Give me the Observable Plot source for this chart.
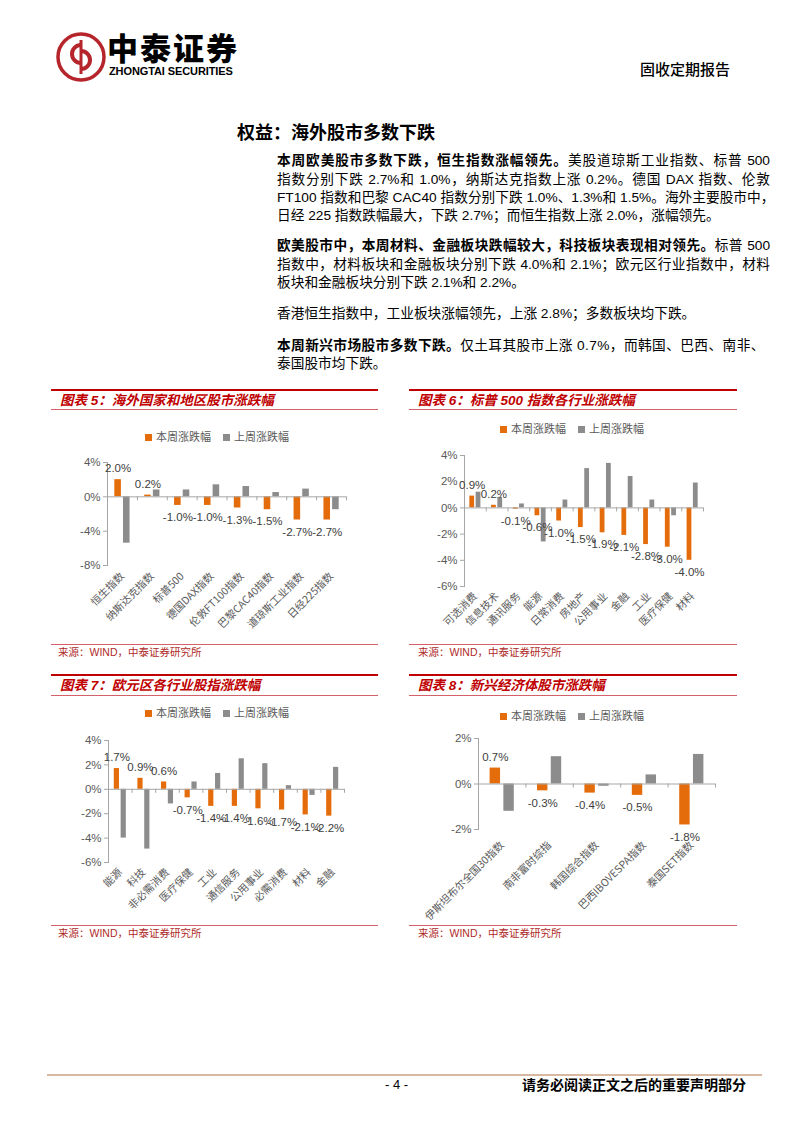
<!DOCTYPE html>
<html><head><meta charset="utf-8">
<script src="https://cdn.jsdelivr.net/npm/d3@7"></script>
<script src="https://cdn.jsdelivr.net/npm/@observablehq/plot@0.6"></script>
<style>
body{margin:0;background:#fff;width:802px;height:1133px;position:relative;overflow:hidden;font-family:"Liberation Sans","Noto Sans CJK SC",sans-serif;color:#000;}
.a{position:absolute;white-space:nowrap;}
.ln{position:absolute;left:277px;width:493px;height:18px;line-height:18px;font-size:13.7px;white-space:nowrap;}
.j{text-align:justify;text-align-last:justify;}
.ttl{position:absolute;font-size:13.5px;font-weight:bold;font-style:italic;color:#c00000;line-height:16px;}
.thick{position:absolute;height:2px;background:#c00000;}
.thin{position:absolute;height:1px;background:#d4606a;}
.src{position:absolute;font-size:10.5px;color:#b02a2a;line-height:12px;}
.leg{position:absolute;font-size:11px;color:#595959;line-height:12px;display:flex;align-items:center;transform:translateX(-50%);}
.leg i{display:inline-block;width:7px;height:7px;margin-right:4px;}
.leg span{margin-right:12px;}
.chart{position:absolute;}
</style></head><body>

<!-- header -->
<svg class="a" style="left:55px;top:31px" width="52" height="52" viewBox="0 0 52 52">
  <circle cx="26" cy="26" r="23" fill="none" stroke="#b5252b" stroke-width="3.5"/>
  <path d="M26 14 A9 9 0 1 0 26 32" fill="none" stroke="#b5252b" stroke-width="4"/>
  <path d="M26 20 A9 9 0 1 1 26 38" fill="none" stroke="#b5252b" stroke-width="4"/>
  <line x1="26" y1="9" x2="26" y2="43" stroke="#b5252b" stroke-width="3"/>
</svg>
<div class="a" style="left:107px;top:33px;font-size:31px;font-weight:900;letter-spacing:2px;line-height:34px;">中泰证券</div>
<div class="a" style="left:109px;top:65px;font-size:11px;font-weight:bold;letter-spacing:-0.1px;line-height:12px;">ZHONGTAI SECURITIES</div>
<div class="a" style="left:640px;top:61px;font-size:15px;font-weight:500;line-height:18px;">固收定期报告</div>

<!-- heading and body -->
<div class="a" style="left:237px;top:122px;font-size:18px;font-weight:bold;line-height:22px;">权益：海外股市多数下跌</div>

<div class="ln j" style="top:152px"><b>本周欧美股市多数下跌，恒生指数涨幅领先。</b>美股道琼斯工业指数、标普 500</div>
<div class="ln j" style="top:171px">指数分别下跌 2.7%和 1.0%，纳斯达克指数上涨 0.2%。德国 DAX 指数、伦敦</div>
<div class="ln j" style="top:189px">FT100 指数和巴黎 CAC40 指数分别下跌 1.0%、1.3%和 1.5%。海外主要股市中，</div>
<div class="ln" style="top:207px">日经 225 指数跌幅最大，下跌 2.7%；而恒生指数上涨 2.0%，涨幅领先。</div>

<div class="ln j" style="top:237px"><b>欧美股市中，本周材料、金融板块跌幅较大，科技板块表现相对领先。</b>标普 500</div>
<div class="ln j" style="top:256px">指数中，材料板块和金融板块分别下跌 4.0%和 2.1%；欧元区行业指数中，材料</div>
<div class="ln" style="top:274px">板块和金融板块分别下跌 2.1%和 2.2%。</div>

<div class="ln" style="top:305px">香港恒生指数中，工业板块涨幅领先，上涨 2.8%；多数板块均下跌。</div>

<div class="ln" style="top:337px;letter-spacing:0.4px"><b>本周新兴市场股市多数下跌。</b>仅土耳其股市上涨 0.7%，而韩国、巴西、南非、</div>
<div class="ln" style="top:355px">泰国股市均下跌。</div>

<!-- chart 5 chrome -->
<div class="thick" style="left:51px;width:327px;top:389px"></div>
<div class="ttl" style="left:60px;top:393px">图表 5：海外国家和地区股市涨跌幅</div>
<div class="thin" style="left:51px;width:327px;top:409px"></div>
<div class="leg" style="left:217px;top:431px"><i style="background:#e46c0a"></i><span>本周涨跌幅</span><i style="background:#8c8c8c"></i>上周涨跌幅</div>
<div class="chart" id="c5" style="left:50px;top:445px"></div>
<div class="thin" style="left:51px;width:327px;top:644px"></div>
<div class="src" style="left:58px;top:646px">来源：WIND，中泰证券研究所</div>

<!-- chart 6 chrome -->
<div class="thick" style="left:409px;width:328px;top:389px"></div>
<div class="ttl" style="left:418px;top:393px">图表 6：标普 500 指数各行业涨跌幅</div>
<div class="thin" style="left:409px;width:328px;top:409px"></div>
<div class="leg" style="left:572px;top:423px"><i style="background:#e46c0a"></i><span>本周涨跌幅</span><i style="background:#8c8c8c"></i>上周涨跌幅</div>
<div class="chart" id="c6" style="left:415px;top:440px"></div>
<div class="thin" style="left:409px;width:328px;top:644px"></div>
<div class="src" style="left:418px;top:646px">来源：WIND，中泰证券研究所</div>

<!-- chart 7 chrome -->
<div class="thick" style="left:51px;width:327px;top:674px"></div>
<div class="ttl" style="left:60px;top:678px">图表 7：欧元区各行业股指涨跌幅</div>
<div class="thin" style="left:51px;width:327px;top:695px"></div>
<div class="leg" style="left:217px;top:707px"><i style="background:#e46c0a"></i><span>本周涨跌幅</span><i style="background:#8c8c8c"></i>上周涨跌幅</div>
<div class="chart" id="c7" style="left:50px;top:725px"></div>
<div class="thin" style="left:51px;width:327px;top:925px"></div>
<div class="src" style="left:58px;top:927px">来源：WIND，中泰证券研究所</div>

<!-- chart 8 chrome -->
<div class="thick" style="left:409px;width:328px;top:674px"></div>
<div class="ttl" style="left:418px;top:678px">图表 8：新兴经济体股市涨跌幅</div>
<div class="thin" style="left:409px;width:328px;top:695px"></div>
<div class="leg" style="left:572px;top:710px"><i style="background:#e46c0a"></i><span>本周涨跌幅</span><i style="background:#8c8c8c"></i>上周涨跌幅</div>
<div class="chart" id="c8" style="left:415px;top:725px"></div>
<div class="thin" style="left:409px;width:328px;top:925px"></div>
<div class="src" style="left:418px;top:927px">来源：WIND，中泰证券研究所</div>

<!-- footer -->
<div class="a" style="left:47px;top:1074px;width:715px;height:2px;background:#d9b8a2"></div>
<div class="a" style="left:385px;top:1077px;font-size:13px;line-height:16px;">- 4 -</div>
<div class="a" style="left:522px;top:1077px;font-size:14px;font-weight:bold;line-height:16px;">请务必阅读正文之后的重要声明部分</div>

<script>
// ---- data ----
const seriesNames = ["本周涨跌幅", "上周涨跌幅"];

const c5Cats = ["恒生指数","纳斯达克指数","标普500","德国DAX指数","伦敦FT100指数","巴黎CAC40指数","道琼斯工业指数","日经225指数"];
const c5This = [2.0, 0.2, -1.0, -1.0, -1.3, -1.5, -2.7, -2.7];
const c5Last = [-5.4, 0.8, 0.8, 1.4, 1.2, 0.5, 0.9, -1.5];
const c5Ticks = [4, 0, -4, -8];

const c6Cats = ["可选消费","信息技术","通讯服务","能源","日常消费","房地产","公用事业","金融","工业","医疗保健","材料"];
const c6This = [0.9, 0.2, -0.1, -0.6, -1.0, -1.5, -1.9, -2.1, -2.8, -3.0, -4.0];
const c6Last = [1.2, 0.8, 0.3, -2.6, 0.6, 3.0, 3.4, 2.4, 0.6, -0.6, 1.9];
const c6Ticks = [4, 2, 0, -2, -4, -6];

const c7Cats = ["能源","科技","非必需消费","医疗保健","工业","通信服务","公用事业","必需消费","材料","金融"];
const c7This = [1.7, 0.9, 0.6, -0.7, -1.4, -1.4, -1.6, -1.7, -2.1, -2.2];
const c7Last = [-4.0, -4.9, -1.2, 0.6, 1.3, 2.5, 2.1, 0.3, -0.5, 1.8];
const c7Ticks = [4, 2, 0, -2, -4, -6];

const c8Cats = ["伊斯坦布尔全国30指数","南非富时综指","韩国综合指数","巴西IBOVESPA指数","泰国SET指数"];
const c8This = [0.7, -0.3, -0.4, -0.5, -1.8];
const c8Last = [-1.2, 1.2, -0.1, 0.4, 1.3];
const c8Ticks = [2, 0, -2];

const ORANGE = "#e46c0a", GRAY = "#8c8c8c", AXIS = "#a6a6a6", TXT = "#595959";

function grouped(cfg) {
  const {cats, a, b, ticks, width, height, ml, mr, mt, mb, pad} = cfg;
  const n = cats.length;
  const bw = (width - ml - mr) / n;
  const w = 0.22 * bw, g = 0.07 * bw;
  const rows = cats.map((c, i) => ({c, a: a[i], b: b[i]}));
  const fmt = v => v.toFixed(1) + "%";
  const off = g / 2 + w / 2;
  const domain = [d3.min(ticks), d3.max(ticks)];
  return Plot.plot({
    width, height,
    marginLeft: ml, marginRight: mr, marginTop: mt, marginBottom: mb,
    style: {fontFamily: '"Liberation Sans","Noto Sans CJK SC",sans-serif', fontSize: "11px", color: TXT, background: "transparent", overflow: "visible"},
    x: {domain: cats, padding: 0, round: false, axis: null, label: null},
    y: {domain, axis: null, label: null},
    marks: [
      Plot.barY(rows, {x: "c", y: "a", fill: ORANGE, insetLeft: bw / 2 - g / 2 - w, insetRight: bw / 2 + g / 2}),
      Plot.barY(rows, {x: "c", y: "b", fill: GRAY, insetLeft: bw / 2 + g / 2, insetRight: bw / 2 - g / 2 - w}),
      Plot.frame({anchor: "left", stroke: AXIS}),
      Plot.ruleY([0], {stroke: AXIS}),
      Plot.ruleX(cats, {x: d => d, y1: 0, y2: 0, dx: -bw / 2, insetBottom: -4, stroke: AXIS}),
      Plot.ruleX([cats[n - 1]], {x: d => d, y1: 0, y2: 0, dx: bw / 2, insetBottom: -4, stroke: AXIS}),
      Plot.axisY({ticks, tickFormat: d => d + "%", tickSize: 4, tickPadding: 3, stroke: AXIS, fill: TXT, fontSize: 11.5, label: null}),
      Plot.axisX({tickRotate: -45, tickSize: 0, tickPadding: pad, fill: TXT, fontSize: 10.5, fontFamily: '"Noto Sans CJK SC",sans-serif', label: null}),
      Plot.text(rows.filter(d => d.a >= 0), {x: "c", y: "a", text: d => fmt(d.a), dx: -off, dy: -11, fill: "#404040", fontSize: 11.5}),
      Plot.text(rows.filter(d => d.a < 0), {x: "c", y: "a", text: d => fmt(d.a), dx: -off, dy: 12, fill: "#404040", fontSize: 11.5})
    ]
  });
}

document.getElementById("c5").append(grouped({cats: c5Cats, a: c5This, b: c5Last, ticks: c5Ticks, width: 330, height: 195, ml: 57, mr: 34, mt: 17, mb: 75, pad: 9}));
document.getElementById("c6").append(grouped({cats: c6Cats, a: c6This, b: c6Last, ticks: c6Ticks, width: 322, height: 200, ml: 49, mr: 34, mt: 15, mb: 54, pad: 8}));
document.getElementById("c7").append(grouped({cats: c7Cats, a: c7This, b: c7Last, ticks: c7Ticks, width: 330, height: 195, ml: 58, mr: 36, mt: 15, mb: 58, pad: 8}));
document.getElementById("c8").append(grouped({cats: c8Cats, a: c8This, b: c8Last, ticks: c8Ticks, width: 322, height: 195, ml: 63, mr: 22, mt: 13, mb: 91, pad: 14}));
</script>
</body></html>
